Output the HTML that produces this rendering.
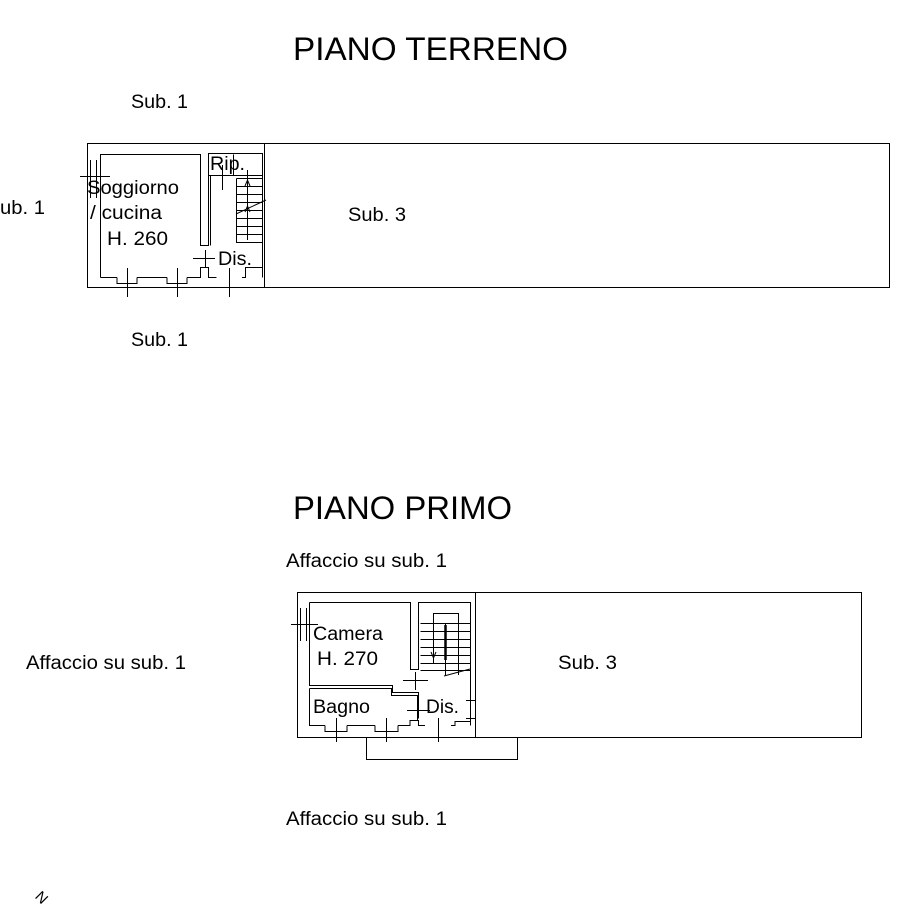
<!DOCTYPE html>
<html><head><style>
body{margin:0;background:#fff;}
svg{display:block;}
text{font-family:"Liberation Sans",sans-serif;fill:#000;}
</style></head><body>
<svg width="908" height="909" viewBox="0 0 908 909" xmlns="http://www.w3.org/2000/svg">
<g stroke="#000" fill="none" stroke-width="1">
<rect x="87.5" y="143.5" width="802" height="144"/>
<line x1="264.5" y1="143" x2="264.5" y2="287"/>
<path d="M100.5 277.5 V154.5 H200.5 V245.5 H208.5 V153.5 H262.5 V277.5"/>
<path d="M210.5 175.5 V245.5"/>
<path d="M208.5 175.5 H233.5 V154.5 M233.5 175.5 H262.5"/>
<path d="M100.5 277.5 H117 M137 277.5 H167 M187 277.5 H200.5 V267.5 H208.5 V277.5 H216.5 M242 277.5 H245.5 V267.5 H262.5"/>
<path d="M236.5 178.5 H262.5 M236.5 178.5 V242.5 H262.5"/>
<path d="M236.5 186.5 H262.5 M236.5 194.5 H262.5 M236.5 202.5 H262.5 M236.5 210.5 H262.5 M236.5 218.5 H262.5 M236.5 226.5 H262.5 M236.5 234.5 H262.5"/>
<line x1="236" y1="214" x2="266" y2="200"/>
<line x1="247.5" y1="170" x2="247.5" y2="240"/>
<path d="M245 186 L247.5 180 L250 186 M245 212 L247.5 206 L250 212"/>
<path d="M80 176.5 H110 M90.5 160 V198 M96.5 160 V198"/>
<path d="M117 277.5 V283.5 H137 V277.5 M127.5 268 V297 M167 277.5 V283.5 H187 V277.5 M177.5 268 V297"/>
<path d="M229.5 268 V297 M193 258.5 H215 M205.5 250 V268 M222.5 190 V165"/>
<rect x="297.5" y="592.5" width="564" height="145"/>
<line x1="475.5" y1="592" x2="475.5" y2="737"/>
<rect x="366.5" y="737.5" width="151" height="22"/>
<path d="M309.5 602.5 H410.5 V669.5 H418.5 V602.5 H470.5 V725.5"/>
<path d="M309.5 602.5 V685.5 H392.5 V692.5 H418.5 V718.5"/>
<path d="M309.5 688.5 H391.5 V695.5 H417.5 V720.5"/>
<path d="M309.5 688.5 V725.5 H325 M347 725.5 H375 M398 725.5 H410 V720.5 H418.5 V725.5 H425 M451 725.5 H455 V721.5 H470.5"/>
<path d="M325 725.5 V731.5 H347 V725.5 M336.5 718 V742 M375 725.5 V731.5 H398 V725.5 M386.5 718 V742 M438.5 718 V742"/>
<path d="M420.5 623.5 H470.5 M420.5 631.5 H470.5 M420.5 639.5 H470.5 M420.5 647.5 H470.5 M420.5 655.5 H470.5 M420.5 663.5 H470.5 M420.5 670.5 H470.5"/>
<path d="M433.5 663 V613.5 H458.5 V675"/>
<line x1="445.5" y1="624" x2="445.5" y2="676"/>
<line x1="444" y1="676" x2="470" y2="669"/>
<path d="M431 652 L433.5 658 L436 652"/>
<path d="M291 624.5 H318 M300.5 608 V641 M306.5 608 V641"/>
<path d="M403 680.5 H428 M415.5 672 V690 M407 710.5 H430 M466 700.5 H476 M466 718.5 H476"/>
</g>
<g stroke="#000" stroke-width="2.5" fill="none">
<line x1="445.5" y1="625" x2="445.5" y2="660"/>
</g>
<g lengthAdjust="spacingAndGlyphs">
<text x="293" y="60" font-size="32" textLength="275" lengthAdjust="spacingAndGlyphs">PIANO TERRENO</text>
<text x="131" y="108" font-size="19" textLength="57" lengthAdjust="spacingAndGlyphs">Sub. 1</text>
<text x="0" y="214" font-size="19" textLength="45" lengthAdjust="spacingAndGlyphs">ub. 1</text>
<text x="87" y="194" font-size="19" textLength="92" lengthAdjust="spacingAndGlyphs">Soggiorno</text>
<text x="90" y="219" font-size="19" textLength="72" lengthAdjust="spacingAndGlyphs">/ cucina</text>
<text x="107" y="245" font-size="19" textLength="61" lengthAdjust="spacingAndGlyphs">H. 260</text>
<text x="210" y="170" font-size="19" textLength="35" lengthAdjust="spacingAndGlyphs">Rip.</text>
<text x="218" y="265" font-size="19" textLength="34" lengthAdjust="spacingAndGlyphs">Dis.</text>
<text x="348" y="221" font-size="19" textLength="58" lengthAdjust="spacingAndGlyphs">Sub. 3</text>
<text x="131" y="346" font-size="19" textLength="57" lengthAdjust="spacingAndGlyphs">Sub. 1</text>
<text x="293" y="519" font-size="32" textLength="219" lengthAdjust="spacingAndGlyphs">PIANO PRIMO</text>
<text x="286" y="567" font-size="19" textLength="161" lengthAdjust="spacingAndGlyphs">Affaccio su sub. 1</text>
<text x="26" y="669" font-size="19" textLength="160" lengthAdjust="spacingAndGlyphs">Affaccio su sub. 1</text>
<text x="313" y="640" font-size="19" textLength="70" lengthAdjust="spacingAndGlyphs">Camera</text>
<text x="317" y="665" font-size="19" textLength="61" lengthAdjust="spacingAndGlyphs">H. 270</text>
<text x="313" y="713" font-size="19" textLength="57" lengthAdjust="spacingAndGlyphs">Bagno</text>
<text x="426" y="713" font-size="19" textLength="33" lengthAdjust="spacingAndGlyphs">Dis.</text>
<text x="558" y="669" font-size="19" textLength="59" lengthAdjust="spacingAndGlyphs">Sub. 3</text>
<text x="286" y="825" font-size="19" textLength="161" lengthAdjust="spacingAndGlyphs">Affaccio su sub. 1</text>
</g>
<text x="36" y="903" font-size="15" transform="rotate(45 42 898)">N</text>
</svg>
</body></html>
